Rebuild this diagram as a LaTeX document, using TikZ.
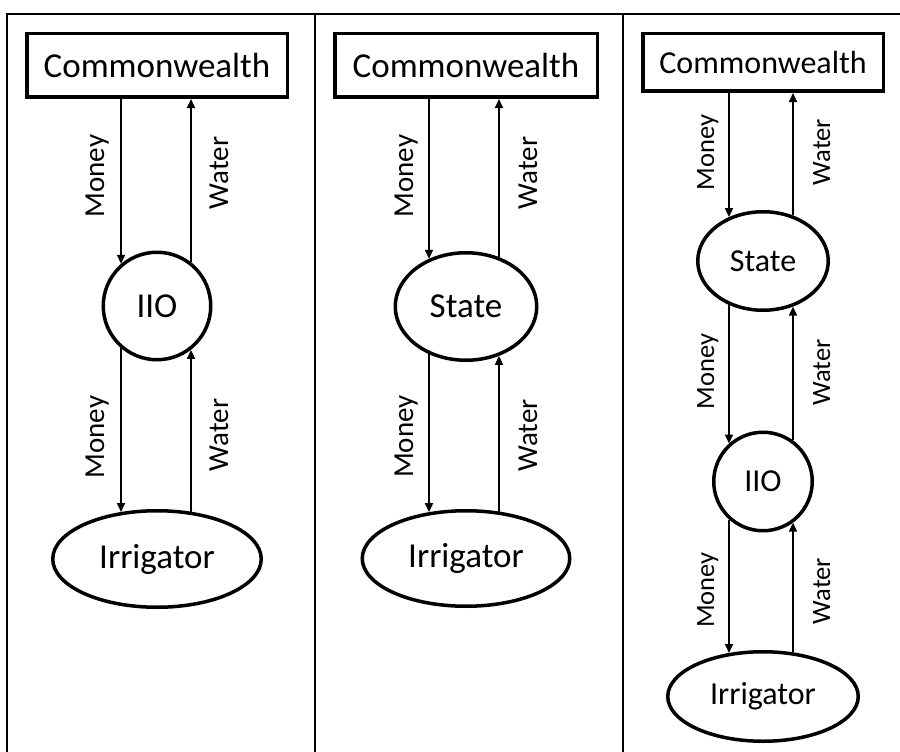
\documentclass[tikz,border=0pt]{standalone}
\usepackage{fontspec}
\setmainfont{Carlito}
\usetikzlibrary{arrows.meta,calc,shapes.geometric}
\begin{document}
\begin{tikzpicture}[x=1pt,y=-1pt,
  frame/.style={line width=2.5pt},
  boxnode/.style={draw,line width=3.5pt,rectangle,inner sep=0pt,outer sep=0pt},
  ovalnode/.style={draw,line width=3.5pt,ellipse,inner sep=0pt,outer sep=0pt},
  roundnode/.style={draw,line width=3.5pt,circle,inner sep=0pt,outer sep=0pt},
  flow/.style={line width=1.8pt,-{Triangle[length=9pt,width=8pt]}},
  lab/.style={rotate=90,anchor=base,inner sep=0pt},
  bigtxt/.style={font=\fontsize{35}{41}\selectfont},
  smalltxt/.style={font=\fontsize{32}{38}\selectfont},
  labbig/.style={font=\fontsize{29}{34}\selectfont},
  labsmall/.style={font=\fontsize{26.5}{31}\selectfont},
]
\useasboundingbox (0,0) rectangle (900,752);
\fill[white] (0,0) rectangle (900,752);

% table frame
\draw[frame] (7,752) -- (7,14) -- (900,14);
\draw[frame] (315,14) -- (315,752);
\draw[frame] (623,14) -- (623,752);

% ---------- column 1 ----------
\node[boxnode,bigtxt,minimum width=260.5pt,minimum height=63.5pt] (cw1) at (157,65.5) {Commonwealth};
\node[roundnode,bigtxt,minimum size=107.5pt] (iio1) at (157,306) {IIO};
\node[ovalnode,bigtxt,minimum width=208.5pt,minimum height=96.5pt] (irr1) at (157,559) {Irrigator};

\draw[flow] ($(cw1.south)+(-36,0)$) -- ($(iio1.center)+(-36,-42.2)$);
\draw[flow] ($(iio1.center)+(34,-43.9)$) -- ($(cw1.south)+(34,1.75)$);
\draw[flow] ($(iio1.center)+(-36,42.2)$) -- ($(irr1.center)+(-36,-47)$);
\draw[flow] ($(irr1.center)+(34,-47.4)$) -- ($(iio1.center)+(34,43.9)$);

\node[lab,labbig] (m1a) at (104,176) {Money};
\node[lab,labbig] (w1a) at (228,173) {Water};
\node[lab,labbig] (m1b) at (104,437) {Money};
\node[lab,labbig] (w1b) at (228,435) {Water};

% ---------- column 2 ----------
\node[boxnode,bigtxt,minimum width=262.5pt,minimum height=63.5pt] (cw2) at (466,65.5) {Commonwealth};
\node[ovalnode,bigtxt,minimum width=141.5pt,minimum height=107.5pt] (st2) at (466,306.5) {State};
\node[ovalnode,bigtxt,minimum width=207.5pt,minimum height=95.5pt] (irr2) at (466,558.5) {Irrigator};

\draw[flow] ($(cw2.south)+(-37,0)$) -- ($(st2.center)+(-37,-47.7)$);
\draw[flow] ($(st2.center)+(33,-49.4)$) -- ($(cw2.south)+(33,1.75)$);
\draw[flow] ($(st2.center)+(-37,47.7)$) -- ($(irr2.center)+(-37,-46.4)$);
\draw[flow] ($(irr2.center)+(33,-47)$) -- ($(st2.center)+(33,49.4)$);

\node[lab,labbig] (m2a) at (413,176) {Money};
\node[lab,labbig] (w2a) at (537,173) {Water};
\node[lab,labbig] (m2b) at (413,436.5) {Money};
\node[lab,labbig] (w2b) at (537,435.5) {Water};

% ---------- column 3 ----------
\node[boxnode,smalltxt,minimum width=240.5pt,minimum height=57.5pt] (cw3) at (763,62.5) {Commonwealth};
\node[ovalnode,smalltxt,minimum width=130.5pt,minimum height=98.5pt] (st3) at (763,261) {State};
\node[roundnode,smalltxt,minimum size=98.5pt] (iio3) at (763,481.5) {IIO};
\node[ovalnode,smalltxt,minimum width=190.5pt,minimum height=89.5pt] (irr3) at (763,696.5) {Irrigator};

\draw[flow] ($(cw3.south)+(-34,0)$) -- ($(st3.center)+(-34,-43.9)$);
\draw[flow] ($(st3.center)+(30,-45.6)$) -- ($(cw3.south)+(30,1.75)$);
\draw[flow] ($(st3.center)+(-34,43.9)$) -- ($(iio3.center)+(-34,-38)$);
\draw[flow] ($(iio3.center)+(30,-41.2)$) -- ($(st3.center)+(30,45.6)$);
\draw[flow] ($(iio3.center)+(-34,38)$) -- ($(irr3.center)+(-34,-43.5)$);
\draw[flow] ($(irr3.center)+(30,-44.2)$) -- ($(iio3.center)+(30,41.2)$);

\node[lab,labsmall] (m3a) at (714,152.5) {Money};
\node[lab,labsmall] (w3a) at (830,152) {Water};
\node[lab,labsmall] (m3b) at (714,371.5) {Money};
\node[lab,labsmall] (w3b) at (830,372.5) {Water};
\node[lab,labsmall] (m3c) at (714,590) {Money};
\node[lab,labsmall] (w3c) at (830,591) {Water};
\end{tikzpicture}
\end{document}
